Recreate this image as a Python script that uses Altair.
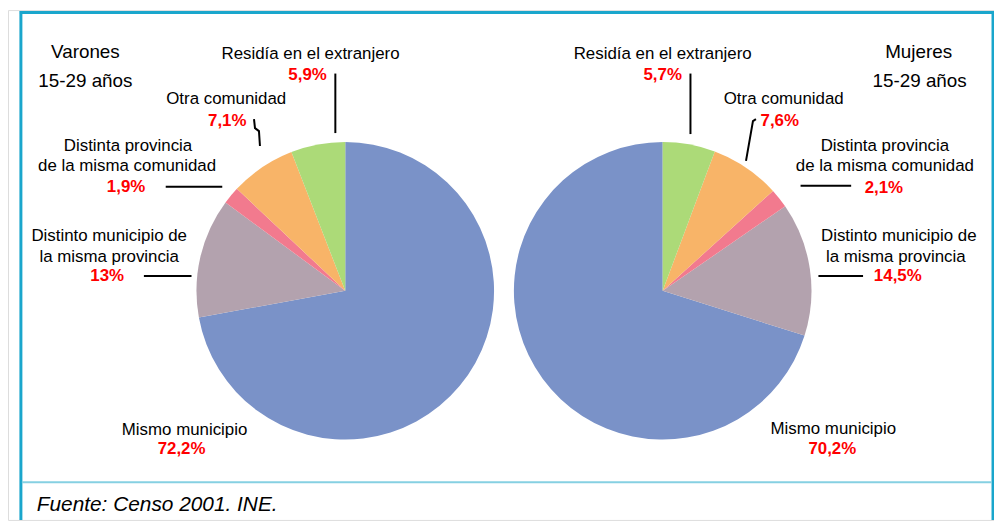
import altair as alt
import pandas as pd

# ---------------- data ----------------
categories = [
    "Mismo municipio",
    "Distinto municipio de\nla misma provincia",
    "Distinta provincia\nde la misma comunidad",
    "Otra comunidad",
    "Residía en el extranjero",
]
varones = [72.2, 13.0, 1.9, 7.1, 5.9]
mujeres = [70.2, 14.5, 2.1, 7.6, 5.7]
groups = ["Varones\n15-29 años", "Mujeres\n15-29 años"]
source_note = "Fuente: Censo 2001. INE."

colors = ["#7A92C8", "#B3A2AE", "#F27A8E", "#F8B468", "#ACDA78"]

# ---------------- layout (page pixel coords) ----------------
OFF = 8
W, H = 994, 514
R = 150
centers = [(348, 291), (668, 291)]
# Varones runs counter-clockwise from the top, Mujeres clockwise
orders = [[0, 1, 2, 3, 4], [4, 3, 2, 1, 0]]

# label anchors per category (name line centers, percent center)
name_pos = [
    {0: [(186, 431)], 1: [(110, 236), (110, 257)], 2: [(129, 145), (128, 165)],
     3: [(228, 98)], 4: [(313, 52)]},
    {0: [(840, 430)], 1: [(906, 236), (903, 257)], 2: [(892, 145), (892, 165)],
     3: [(790, 98)], 4: [(668, 52)]},
]
pct_pos = [
    {0: (183, 451), 1: (108, 276), 2: (127, 186), 3: (229, 120), 4: (310, 74)},
    {0: (839, 451), 1: (905, 276), 2: (891, 187), 3: (786, 120), 4: (668, 74)},
]
group_pos = [[(86, 50), (86, 80)], [(926, 50), (927, 80)]]

leaders = [
    [[(338, 72), (338, 132)],
     [(256, 118), (257, 127), (261, 130), (262, 145)],
     [(167, 186), (224, 186)],
     [(145, 276), (193, 276)]],
    [[(696, 72), (696, 133)],
     [(762, 118), (759, 120), (752, 160)],
     [(807, 185), (858, 185)],
     [(825, 276), (870, 276)]],
]


def fmt(v):
    s = f"{v:.1f}".replace(".", ",")
    if s.endswith(",0"):
        s = s[:-2]
    return s + "%"


# ---------------- tables ----------------
pie_rows = []
for p, vals in enumerate([varones, mujeres]):
    for i, (c, v) in enumerate(zip(categories, vals)):
        pie_rows.append({"pie": p, "cat": c, "value": v, "ord": orders[p][i]})
pie_df = pd.DataFrame(pie_rows)

name_rows, pct_rows, grp_rows = [], [], []
for p, vals in enumerate([varones, mujeres]):
    for i, c in enumerate(categories):
        for line, (x, y) in zip(c.split("\n"), name_pos[p][i]):
            name_rows.append({"t": line, "x": x - OFF, "y": y - OFF})
        x, y = pct_pos[p][i]
        pct_rows.append({"t": fmt(vals[i]), "x": x - OFF, "y": y - OFF})
    for line, (x, y) in zip(groups[p].split("\n"), group_pos[p]):
        grp_rows.append({"t": line, "x": x - OFF, "y": y - OFF})

line_rows = []
k = 0
for p in range(2):
    for seg in leaders[p]:
        for j, (x, y) in enumerate(seg):
            line_rows.append({"id": k, "j": j, "x": x - OFF, "y": y - OFF})
        k += 1

X = lambda f: alt.X(f, type="quantitative", scale=None, axis=None)
Y = lambda f: alt.Y(f, type="quantitative", scale=None, axis=None)

one = alt.Data(values=[{"a": 1}])

FONT = "Liberation Sans Narrow, Arial Narrow, Liberation Sans, Arial, sans-serif"

layers = []
color_scale = alt.Scale(domain=categories, range=colors)
for p in range(2):
    cx, cy = centers[p]
    layers.append(
        alt.Chart(pie_df[pie_df.pie == p])
        .mark_arc(outerRadius=R, stroke=None)
        .encode(
            theta=alt.Theta("value:Q", stack=True),
            color=alt.Color("cat:N", scale=color_scale, legend=None),
            order=alt.Order("ord:Q"),
            x=alt.value(cx - OFF),
            y=alt.value(cy - OFF),
        )
    )

layers.append(
    alt.Chart(pd.DataFrame(line_rows))
    .mark_line(color="black", strokeWidth=2)
    .encode(x=X("x"), y=Y("y"), detail="id:N", order="j:Q")
)
layers.append(
    alt.Chart(pd.DataFrame(name_rows))
    .mark_text(font=FONT, fontSize=17, color="black", align="center", baseline="middle")
    .encode(x=X("x"), y=Y("y"), text="t:N")
)
layers.append(
    alt.Chart(pd.DataFrame(grp_rows))
    .mark_text(font=FONT, fontSize=19, color="black", align="center", baseline="middle")
    .encode(x=X("x"), y=Y("y"), text="t:N")
)
layers.append(
    alt.Chart(pd.DataFrame(pct_rows))
    .mark_text(font=FONT, fontSize=17, fontWeight="bold", color="#FF0000",
               align="center", baseline="middle")
    .encode(x=X("x"), y=Y("y"), text="t:N")
)

# frame
BLUE = "#1AA6CC"
layers += [
    alt.Chart(one).mark_rule(color=BLUE, strokeWidth=3).encode(
        x=alt.value(21 - OFF), y=alt.value(9 - OFF), y2=alt.value(H)),
    alt.Chart(one).mark_rule(color=BLUE, strokeWidth=3).encode(
        x=alt.value(1001 - OFF), y=alt.value(9 - OFF), y2=alt.value(H)),
    alt.Chart(one).mark_rule(color=BLUE, strokeWidth=3).encode(
        x=alt.value(20 - OFF), x2=alt.value(1002 - OFF), y=alt.value(10.5 - OFF)),
    alt.Chart(one).mark_rule(color="#86D0E2", strokeWidth=2).encode(
        x=alt.value(22 - OFF), x2=alt.value(1000 - OFF), y=alt.value(484 - OFF)),
    alt.Chart(one).mark_text(font="Liberation Sans, Arial, sans-serif", fontSize=21,
                             fontStyle="italic", color="black", align="left",
                             baseline="alphabetic").encode(
        x=alt.value(37 - OFF), y=alt.value(513 - OFF), text=alt.value(source_note)),
]

chart = (
    alt.layer(*layers)
    .properties(width=W, height=H, padding=0, autosize=alt.AutoSizeParams(type="none"))
    .configure_view(stroke=None)
    .configure(background="white")
)

chart.save("out.html", embed_options={"renderer": "svg", "actions": False})
